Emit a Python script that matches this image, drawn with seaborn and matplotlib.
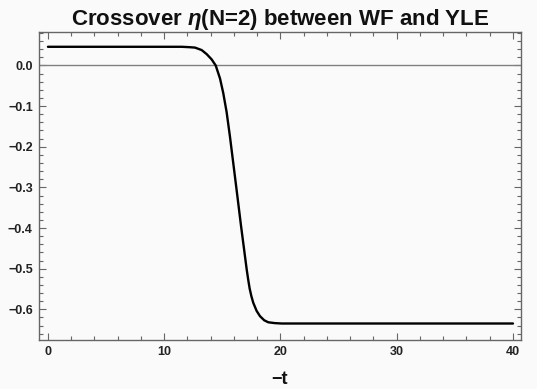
import matplotlib
matplotlib.use("Agg")
import matplotlib.pyplot as plt
from matplotlib.ticker import MultipleLocator
import seaborn as sns
import pandas as pd

# Data
t_vals = [0, 5, 10, 11.5, 12.2, 12.65, 13.22, 13.65, 14.08, 14.43, 14.80,
          15.08, 15.37, 15.66, 16.00, 16.30, 16.60, 16.95, 17.1, 17.23, 17.35,
          17.5, 17.66, 17.95, 18.24, 18.6, 18.95, 19.5, 20.1, 25, 30, 35, 40]
eta_vals = [0.046, 0.046, 0.046, 0.046, 0.045, 0.044, 0.038, 0.028, 0.015,
            0.000, -0.032, -0.068, -0.115, -0.176, -0.254, -0.323, -0.393,
            -0.470, -0.503, -0.528, -0.549, -0.568, -0.584, -0.604, -0.617,
            -0.627, -0.632, -0.634, -0.635, -0.635, -0.635, -0.635, -0.635]
x_ticks = [0, 10, 20, 30, 40]
y_ticks = [0.0, -0.1, -0.2, -0.3, -0.4, -0.5, -0.6]
title_text = r"Crossover $\eta$(N=2) between WF and YLE"
x_label = "\u2212t"

df = pd.DataFrame({"t": t_vals, "eta": eta_vals})

sns.set_theme(style="ticks")
plt.rcParams["font.family"] = ["Liberation Sans", "DejaVu Sans"]
plt.rcParams["mathtext.fontset"] = "custom"
plt.rcParams["mathtext.it"] = "Liberation Sans:italic:bold"
plt.rcParams["mathtext.rm"] = "Liberation Sans:bold"
plt.rcParams["mathtext.bf"] = "Liberation Sans:bold"

bg = "#fafafa"
frame_col = "#666666"
fig = plt.figure(figsize=(5.37, 3.89), dpi=100, facecolor=bg)
ax = fig.add_axes([39 / 537, 49 / 389, (521 - 39) / 537, (340 - 32) / 389])
ax.set_facecolor(bg)

ax.axhline(0, color="#808080", lw=1.0, zorder=1)
sns.lineplot(data=df, x="t", y="eta", ax=ax, color="black", lw=1.7,
             sort=False, estimator=None, zorder=3)

ax.set_xlim(-0.77, 40.69)
ax.set_ylim(-0.6756, 0.0824)
ax.set_xticks(x_ticks)
ax.set_yticks(y_ticks)
ax.set_xticklabels([str(v) for v in x_ticks])
ax.set_yticklabels([f"{v:.1f}".replace("-", "\u2212") if v != 0 else "0.0" for v in y_ticks])
ax.xaxis.set_minor_locator(MultipleLocator(2))
ax.yaxis.set_minor_locator(MultipleLocator(0.02))

for s in ax.spines.values():
    s.set_color(frame_col)
    s.set_linewidth(1.0)
    s.set_visible(True)

ax.tick_params(which="both", direction="in", top=True, right=True,
               color=frame_col, width=0.8)
ax.tick_params(which="major", length=5)
ax.tick_params(which="minor", length=2.8)
ax.tick_params(axis="both", which="major", labelsize=9, pad=4.5, labelcolor="#222222")
for lab in ax.get_xticklabels() + ax.get_yticklabels():
    lab.set_fontweight("bold")

ax.set_xlabel(x_label, fontsize=13, fontweight="bold", color="#111111")
ax.xaxis.label.set_va("baseline")
ax.xaxis.set_label_coords(0.5, -0.143)
ax.set_ylabel("")
ax.set_title(title_text, fontsize=16, fontweight="bold", pad=5, color="#111111")

fig.savefig("out.png", dpi=100, facecolor=bg)
